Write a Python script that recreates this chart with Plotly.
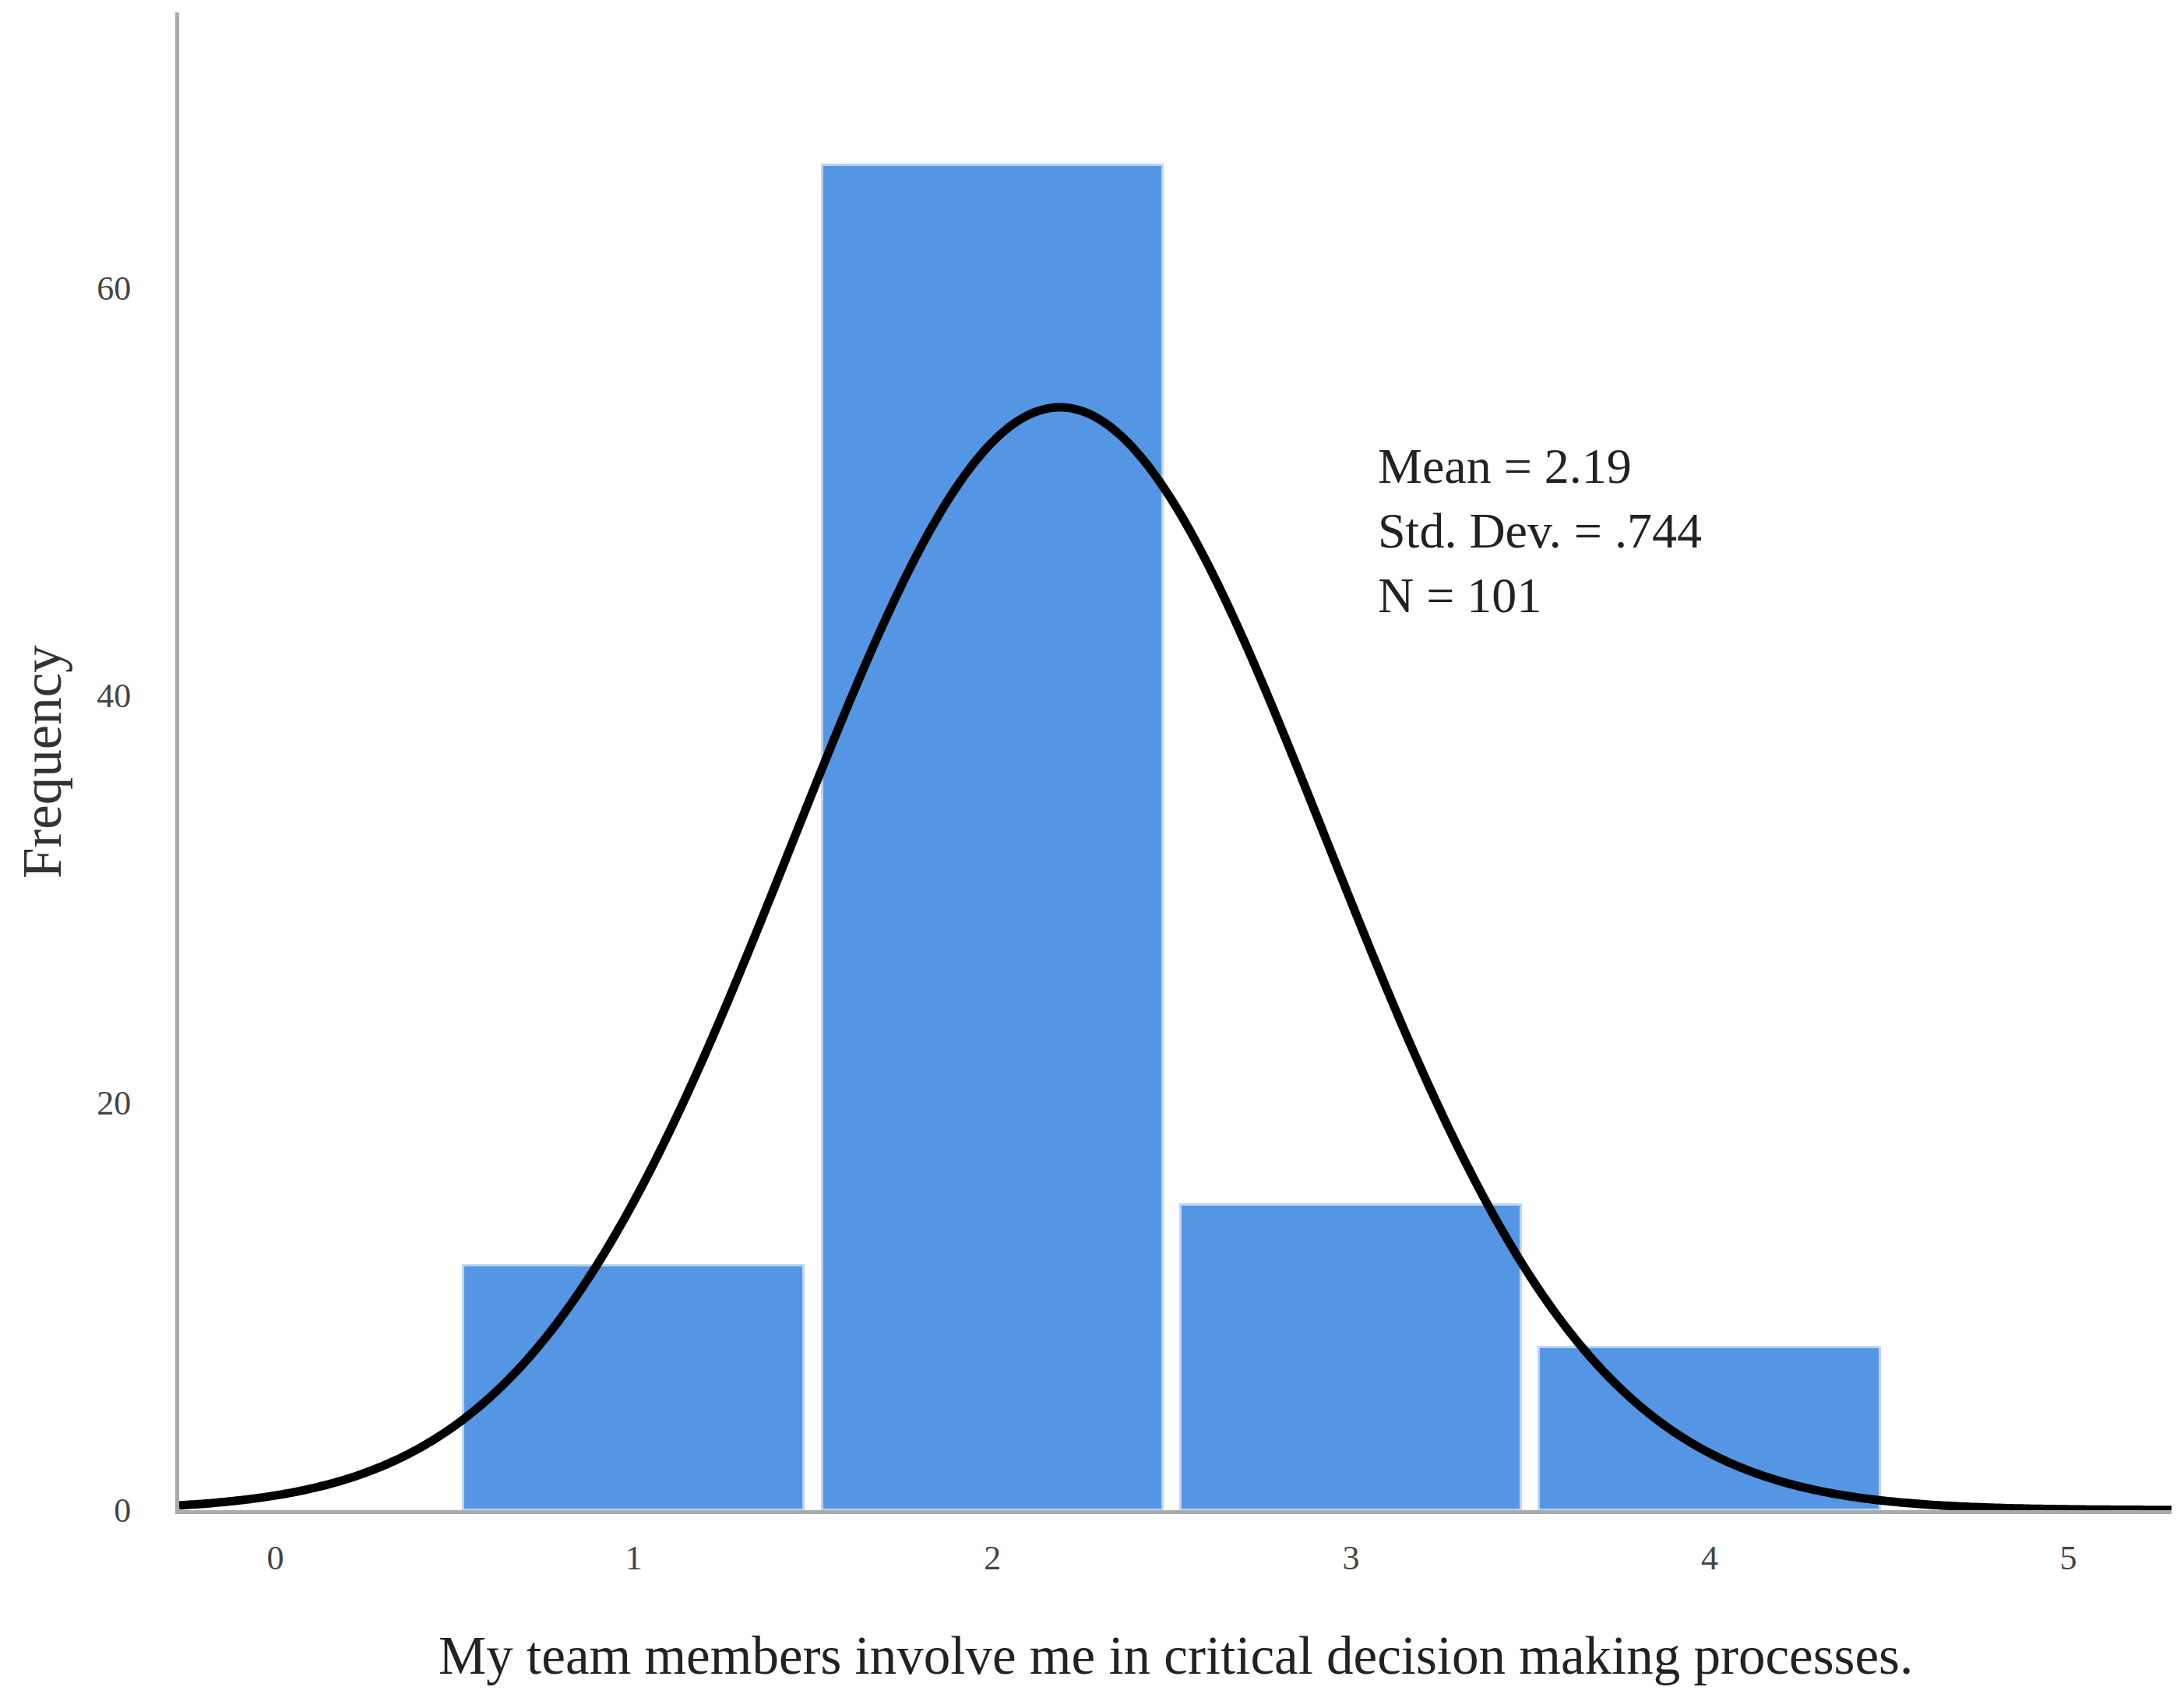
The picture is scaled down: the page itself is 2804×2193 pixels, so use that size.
import numpy as np
import plotly.graph_objects as go

# Data
categories = [1, 2, 3, 4]
frequencies = [12, 66, 15, 8]
x_tick_vals = [0, 1, 2, 3, 4, 5]
y_tick_vals = [0, 20, 40, 60]
x_title = "My team members involve me in critical decision making processes."
y_title = "Frequency"

# Summary statistics (derived from the data)
vals = np.repeat(categories, frequencies)
N = len(vals)
mean = vals.mean()
sd = vals.std(ddof=1)
stat_lines = [f"Mean = {mean:.2f}", f"Std. Dev. = {sd:.3f}".replace("0.", "."), f"N = {N}"]

xr = [-0.268, 5.288]
yr = [0, 73.5]

# Fitted normal curve
xc = np.linspace(xr[0], xr[1], 800)
yc = N * 1.0 * np.exp(-0.5 * ((xc - mean) / sd) ** 2) / (sd * np.sqrt(2 * np.pi))

FONT = "Liberation Serif"

fig = go.Figure()
fig.add_trace(go.Bar(
    x=categories, y=frequencies, width=0.95,
    marker=dict(color="rgb(85,150,228)", line=dict(color="#bcd5f5", width=3)),
    showlegend=False, hoverinfo="x+y",
))
fig.add_trace(go.Scatter(
    x=xc, y=yc, mode="lines", line=dict(color="black", width=11, simplify=False),
    showlegend=False, hoverinfo="skip",
))

fig.update_layout(
    width=2804, height=2193,
    margin=dict(l=222, r=24, t=8, b=262),
    paper_bgcolor="white", plot_bgcolor="white",
    font=dict(family=FONT, color="#333333"),
    bargap=0,
)
fig.update_xaxes(
    range=xr, tickvals=x_tick_vals, ticktext=[str(v) for v in x_tick_vals],
    showgrid=False, zeroline=False, showline=True, linecolor="#ababab", linewidth=5,
    ticks="outside", ticklen=0, ticklabelstandoff=18,
    tickfont=dict(family=FONT, size=44, color="#444444"),
)
fig.update_yaxes(
    range=yr, tickvals=y_tick_vals, ticktext=[str(v) for v in y_tick_vals],
    showgrid=False, zeroline=False, showline=True, linecolor="#ababab", linewidth=5,
    ticks="outside", ticklen=0, ticklabelstandoff=48,
    tickfont=dict(family=FONT, size=44, color="#444444"),
)

# Axis titles
fig.add_annotation(text=x_title, xref="paper", yref="paper", x=0.5, y=-0.097,
                   showarrow=False, xanchor="center", yanchor="middle",
                   font=dict(family=FONT, size=69, color="#222222"))
fig.add_annotation(text=y_title, xref="paper", yref="paper", x=-0.069, y=0.5,
                   showarrow=False, xanchor="center", yanchor="middle", textangle=-90,
                   font=dict(family=FONT, size=71, color="#333333"))

# Stats text (one block)
fig.add_annotation(text="<br>".join(stat_lines), xref="paper", yref="paper",
                   x=0.601, y=0.654, showarrow=False, xanchor="left", yanchor="middle",
                   align="left", font=dict(family=FONT, size=64, color="#222222"))

fig.write_html("out.html")
